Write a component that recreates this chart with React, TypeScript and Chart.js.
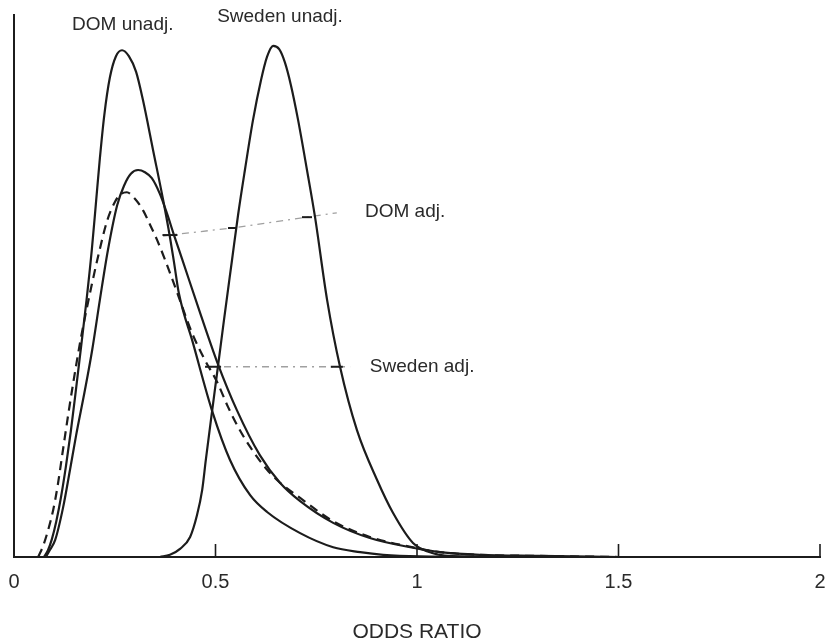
import React, { useEffect, useRef } from "react";
import { Chart, registerables } from "chart.js";

Chart.register(...registerables);

// Posterior densities of the odds ratio (relative density, peak ≈ 94)
const domUnadjOR = [0.074, 0.084, 0.094, 0.105, 0.117, 0.129, 0.141, 0.153, 0.166, 0.18, 0.193, 0.203, 0.213, 0.224, 0.238, 0.253, 0.268, 0.285, 0.303, 0.32, 0.345, 0.37, 0.387, 0.397, 0.409, 0.444, 0.491, 0.536, 0.586, 0.628, 0.71, 0.792, 0.859, 0.916, 1.007, 1.2];
const domUnadjDensity = [0, 1.2, 3.3, 6.6, 11.2, 16.8, 23.2, 30.4, 38.5, 47.4, 56.6, 65.0, 73.5, 81.5, 88.5, 92.4, 93.5, 92.4, 89.5, 84.3, 75.1, 65.9, 59.0, 54.4, 48.7, 39.5, 27.1, 17.9, 11.4, 8.3, 4.4, 1.8, 0.9, 0.4, 0.1, 0];

const swedenUnadjOR = [0.362, 0.387, 0.412, 0.437, 0.454, 0.467, 0.476, 0.491, 0.506, 0.521, 0.541, 0.556, 0.573, 0.593, 0.613, 0.628, 0.643, 0.658, 0.672, 0.687, 0.705, 0.727, 0.747, 0.777, 0.809, 0.851, 0.901, 0.94, 0.99, 1.04, 1.107, 1.3];
const swedenUnadjDensity = [0, 0.4, 1.5, 3.7, 7.7, 12.4, 17.9, 26.6, 35.1, 43.7, 54.8, 63.1, 71.4, 80.6, 88.0, 92.3, 94.3, 93.7, 91.3, 87.1, 80.6, 71.4, 62.7, 47.4, 35.1, 23.4, 14.2, 8.2, 2.6, 0.7, 0.1, 0];

const domAdjOR = [0.079, 0.089, 0.102, 0.122, 0.139, 0.154, 0.176, 0.194, 0.213, 0.233, 0.256, 0.273, 0.29, 0.308, 0.325, 0.342, 0.362, 0.38, 0.397, 0.417, 0.462, 0.506, 0.553, 0.61, 0.66, 0.71, 0.792, 0.883, 0.99, 1.057, 1.156, 1.3, 1.5];
const domAdjDensity = [0, 1.3, 3.1, 9.2, 16.1, 22.4, 30.8, 38.2, 47.4, 56.6, 64.9, 68.5, 70.7, 71.4, 71.0, 69.9, 67.0, 63.3, 59.4, 55.0, 45.0, 35.6, 27.1, 18.8, 13.7, 10.3, 6.3, 3.5, 1.7, 0.9, 0.4, 0.2, 0];

const swedenAdjOR = [0.06, 0.072, 0.084, 0.097, 0.108, 0.12, 0.135, 0.15, 0.165, 0.181, 0.194, 0.211, 0.231, 0.251, 0.266, 0.28, 0.3, 0.32, 0.337, 0.355, 0.375, 0.4, 0.442, 0.474, 0.504, 0.531, 0.556, 0.586, 0.628, 0.66, 0.71, 0.792, 0.883, 0.99, 1.057, 1.156, 1.3, 1.5];
const swedenAdjDensity = [0, 2.0, 4.8, 8.6, 13.0, 19.0, 26.5, 33.5, 40.0, 46.0, 50.6, 56.2, 62.0, 65.6, 67.0, 67.3, 66.1, 64.0, 61.4, 58.5, 54.8, 49.8, 41.3, 36.3, 32.3, 27.7, 24.0, 20.3, 16.1, 13.7, 10.9, 6.6, 3.7, 1.8, 0.9, 0.4, 0.2, 0];

// Leader lines from the adjusted curves to their labels, with cross marks
const leaderDomAdjOR = [0.37, 0.387, 0.541, 0.727, 0.801];
const leaderDomAdjY = [59.2, 59.4, 60.7, 62.7, 63.5];
const leaderDomAdjMark = [0, 7.5, 4, 5, 0];

const leaderSwedenAdjOR = [0.474, 0.494, 0.801, 0.834];
const leaderSwedenAdjY = [35.1, 35.1, 35.1, 35.1];
const leaderSwedenAdjMark = [0, 8, 6, 0];

// Curve labels
const labelText = ["DOM unadj.", "Sweden unadj.", "DOM adj.", "Sweden adj."];
const labelOR = [0.27, 0.66, 0.871, 0.883];
const labelY = [98.2, 99.6, 63.7, 35.1];
const labelAlign: CanvasTextAlign[] = ["center", "center", "left", "left"];

// Axis ticks
const oddsTicks = [0, 0.5, 1, 1.5, 2];

const INK = "#1c1c1c";
const TEXT = "#2a2a2a";
const FONT = "'Liberation Sans', Arial, Helvetica, sans-serif";

const pts = (xs: number[], ys: number[]) => xs.map((x, i) => ({ x, y: ys[i] }));

// Short tick marks pointing up into the plot from the odds-ratio axis
const innerTicks = {
  id: "innerTicks",
  afterDraw(chart: any) {
    const { ctx, scales, chartArea } = chart;
    const xs = scales.x;
    ctx.save();
    ctx.strokeStyle = INK;
    ctx.lineWidth = 1.6;
    oddsTicks.forEach((v) => {
      if (v === 0) return;
      const px = xs.getPixelForValue(v);
      ctx.beginPath();
      ctx.moveTo(px, chartArea.bottom);
      ctx.lineTo(px, chartArea.bottom - 13);
      ctx.stroke();
    });
    ctx.restore();
  },
};

const curveLabels = {
  id: "curveLabels",
  afterDraw(chart: any) {
    const { ctx, scales } = chart;
    ctx.save();
    ctx.fillStyle = TEXT;
    ctx.font = `19px ${FONT}`;
    ctx.textBaseline = "middle";
    labelText.forEach((t, i) => {
      ctx.textAlign = labelAlign[i];
      ctx.fillText(t, scales.x.getPixelForValue(labelOR[i]), scales.y.getPixelForValue(labelY[i]));
    });
    ctx.restore();
  },
};

export default function App() {
  const ref = useRef<HTMLCanvasElement>(null);

  useEffect(() => {
    if (!ref.current) return;
    const curve = (data: any, dash: number[] = []) => ({
      data,
      borderColor: INK,
      borderWidth: 2.2,
      borderDash: dash,
      pointRadius: 0,
      fill: false,
      cubicInterpolationMode: "monotone" as const,
      tension: 0.4,
    });
    const leader = (data: any, marks: number[]) => ({
      data,
      borderColor: "#a0a0a0",
      borderWidth: 1.3,
      borderDash: [7, 5, 2, 5],
      pointStyle: "line" as const,
      pointRadius: marks,
      pointBorderColor: INK,
      pointBorderWidth: 2,
      fill: false,
      tension: 0,
    });

    const chart = new Chart(ref.current, {
      type: "line",
      data: {
        datasets: [
          curve(pts(domUnadjOR, domUnadjDensity)),
          curve(pts(swedenUnadjOR, swedenUnadjDensity)),
          curve(pts(domAdjOR, domAdjDensity)),
          curve(pts(swedenAdjOR, swedenAdjDensity), [9, 6]),
          leader(pts(leaderDomAdjOR, leaderDomAdjY), leaderDomAdjMark),
          leader(pts(leaderSwedenAdjOR, leaderSwedenAdjY), leaderSwedenAdjMark),
        ] as any,
      },
      options: {
        animation: false,
        responsive: true,
        maintainAspectRatio: false,
        layout: { padding: { top: 15, right: 6, left: 0, bottom: 0 } },
        plugins: { legend: { display: false }, tooltip: { enabled: false } },
        scales: {
          x: {
            type: "linear",
            min: 0,
            max: 2,
            afterBuildTicks: (s: any) => {
              s.ticks = oddsTicks.map((v) => ({ value: v }));
            },
            afterFit: (s: any) => {
              s.height = 85;
            },
            ticks: {
              callback: (v: any) => String(v),
              font: { family: FONT, size: 20 },
              color: TEXT,
              padding: 0,
              maxRotation: 0,
            },
            grid: {
              display: true,
              drawOnChartArea: false,
              drawTicks: true,
              tickLength: 13,
              tickColor: "rgba(0,0,0,0)",
            },
            border: { display: true, color: INK, width: 2 },
            title: {
              display: true,
              text: "ODDS RATIO",
              font: { family: FONT, size: 21 },
              color: TEXT,
              padding: { top: 0, bottom: -3 },
            },
          },
          y: {
            type: "linear",
            min: 0,
            max: 100,
            afterFit: (s: any) => {
              s.width = 14;
            },
            ticks: { display: false },
            grid: { display: false, drawTicks: false },
            border: { display: true, color: INK, width: 2 },
          },
        },
      },
      plugins: [innerTicks, curveLabels],
    });
    return () => chart.destroy();
  }, []);

  return (
    <div style={{ position: "fixed", left: 0, top: 0, width: 826, height: 642, background: "#fff" }}>
      <canvas ref={ref} />
    </div>
  );
}
